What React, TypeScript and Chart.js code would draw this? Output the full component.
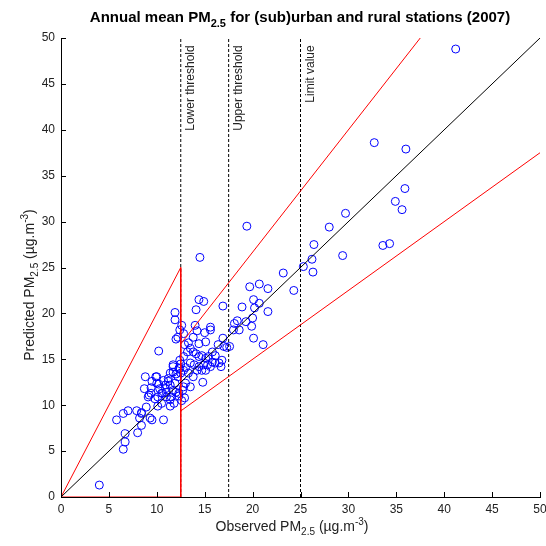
import React, { useEffect, useRef } from "react";
import { Chart, registerables } from "chart.js";
Chart.register(...registerables);

// Observed vs predicted annual mean PM2.5 (ug/m3)
const observed = [
  4.0, 5.8, 6.5, 7.0, 6.7, 6.7, 6.5, 8.0, 7.9, 8.4, 8.2, 8.9, 8.4, 9.3, 8.8, 9.9, 9.5, 10.7, 10.1, 9.2,
  10.2, 10.0, 10.2, 9.4, 10.3, 10.7, 10.9, 11.2, 10.6, 11.0, 11.4, 11.5, 11.8, 11.4, 11.7, 12.0, 12.4, 12.0, 12.3, 12.9,
  12.6, 12.8, 11.9, 11.9, 12.2, 12.0, 12.6, 14.4, 14.9, 14.5, 14.1, 14.0, 14.2, 15.0, 15.6, 15.6, 16.9, 16.9, 16.4, 17.0,
  17.3, 16.5, 14.8,
  12.4, 12.8, 13.2, 13.5, 13.8, 14.1, 14.4, 14.7, 15.1, 15.4, 15.8, 16.1, 15.8, 15.3, 14.9, 14.4, 13.9, 13.5, 13.0, 12.8,
  12.5, 12.3, 11.7, 11.4, 12.2, 12.5, 13.3, 13.8, 14.2, 14.7, 15.1, 15.6, 16.1, 16.7, 16.8, 13.8, 13.3, 14.4, 15.1, 12.9,
  12.8, 12.4, 11.7, 11.2, 10.9, 11.7, 12.3, 10.5, 10.1, 9.8, 9.4, 9.1, 10.0, 9.5, 8.7, 8.4, 10.5, 11.4, 11.0, 11.9,
  13.0, 13.5, 12.7,
  18.1, 18.4, 18.9, 18.6, 19.4, 19.7, 20.7, 21.6, 24.3, 20.1, 20.0, 19.9, 20.1, 21.1, 21.6, 20.7, 20.2, 19.3, 18.0, 17.6,
  23.2, 25.3, 26.2, 26.3, 26.4, 28.0, 29.4, 29.7, 32.7, 36.0, 35.9, 34.9, 35.6, 33.6, 34.3, 41.2,
];
const predicted = [
  1.3, 8.4, 9.1, 9.4, 6.9, 6.0, 5.2, 7.0, 9.4, 9.2, 8.6, 9.8, 7.8, 8.6, 13.1, 13.1, 8.4, 8.4, 9.9, 11.1,
  15.9, 12.4, 12.3, 11.9, 11.8, 12.7, 11.8, 12.9, 11.3, 11.4, 12.2, 10.9, 10.2, 9.9, 14.4, 13.4, 14.0, 11.4, 11.0, 10.8,
  10.5, 12.0, 20.1, 19.3, 17.4, 17.2, 18.7, 21.5, 21.3, 26.1, 20.4, 18.7, 18.1, 17.9, 18.2, 18.5, 20.8, 17.3, 16.6, 16.4,
  16.3, 14.6, 12.5,
  14.9, 15.3, 15.8, 16.2, 15.8, 15.6, 15.3, 15.4, 15.1, 15.3, 14.7, 15.4, 15.8, 14.4, 14.4, 14.2, 14.4, 14.6, 14.1, 13.8,
  14.5, 14.0, 14.2, 13.5, 13.1, 13.5, 13.5, 13.1, 13.8, 13.8, 13.8, 14.2, 14.6, 14.2, 14.9, 17.4, 16.8, 16.7, 16.9, 16.6,
  17.8, 18.2, 13.6, 12.6, 12.2, 11.6, 11.3, 11.3, 10.9, 10.7, 11.3, 10.9, 13.1, 12.6, 11.8, 9.1, 10.2, 10.6, 10.9, 12.4,
  12.4, 12.0, 11.6,
  18.9, 19.2, 20.7, 18.2, 29.5, 22.9, 23.2, 22.7, 22.5, 21.5, 19.5, 18.6, 17.3, 16.6, 20.2, 21.1, 20.6, 19.1, 18.2, 16.4,
  24.4, 25.1, 25.9, 24.5, 27.5, 29.4, 26.3, 30.9, 38.6, 37.9, 33.6, 32.2, 31.3, 27.4, 27.6, 48.8,
];

const axisTicks = [0, 5, 10, 15, 20, 25, 30, 35, 40, 45, 50];
const thresholds = [12.5, 17.5, 25];
const thresholdLabels = ["Lower threshold", "Upper threshold", "Limit value"];
const oneToOneX = [0, 50];
const oneToOneY = [0, 50];
const redLowX = [0, 12.5, 12.5, 0];
const redLowY = [0, 25, 0, 0];
const redUpperX = [12.5, 37.5];
const redUpperY = [16.667, 50];
const redLowerX = [12.5, 50];
const redLowerY = [9.375, 37.5];

const FONT = "Arial, 'Liberation Sans', sans-serif";
const TXT = "#222222";

type Part = { t: string; k?: "sub" | "sup" };

function drawRich(ctx: CanvasRenderingContext2D, parts: Part[], cx: number, y: number, size: number, bold: boolean) {
  const w = bold ? "bold " : "";
  const small = Math.round(size * 0.72);
  const fontFor = (p: Part) => `${w}${p.k ? small : size}px ${FONT}`;
  let total = 0;
  for (const p of parts) {
    ctx.font = fontFor(p);
    total += ctx.measureText(p.t).width;
  }
  let x = cx - total / 2;
  ctx.textAlign = "left";
  ctx.textBaseline = "alphabetic";
  for (const p of parts) {
    ctx.font = fontFor(p);
    const dy = p.k === "sub" ? size * 0.32 : p.k === "sup" ? -size * 0.45 : 0;
    ctx.fillText(p.t, x, y + dy);
    x += ctx.measureText(p.t).width;
  }
}

const decorPlugin = {
  id: "decor",
  afterDraw(chart: any) {
    const ctx: CanvasRenderingContext2D = chart.ctx;
    const xs = chart.scales.x;
    const ys = chart.scales.y;
    const area = chart.chartArea;
    ctx.save();
    // inward ticks
    ctx.strokeStyle = "#000";
    ctx.lineWidth = 1;
    ctx.beginPath();
    for (const v of axisTicks) {
      const px = Math.round(xs.getPixelForValue(v)) + 0.5;
      ctx.moveTo(px, area.bottom);
      ctx.lineTo(px, area.bottom - 5);
      const py = Math.round(ys.getPixelForValue(v)) + 0.5;
      ctx.moveTo(area.left, py);
      ctx.lineTo(area.left + 5, py);
    }
    ctx.stroke();
    // threshold labels
    ctx.fillStyle = TXT;
    ctx.font = `12px ${FONT}`;
    thresholds.forEach((t, i) => {
      const px = xs.getPixelForValue(t) + 13;
      const py = ys.getPixelForValue(49.2);
      ctx.save();
      ctx.translate(px, py);
      ctx.rotate(-Math.PI / 2);
      ctx.textAlign = "right";
      ctx.textBaseline = "alphabetic";
      ctx.fillText(thresholdLabels[i], 0, 0);
      ctx.restore();
    });
    // title
    ctx.fillStyle = "#000";
    drawRich(ctx, [
      { t: "Annual mean PM" }, { t: "2.5", k: "sub" }, { t: " for (sub)urban and rural stations (2007)" },
    ], 300, 22, 15, true);
    // x title
    ctx.fillStyle = TXT;
    drawRich(ctx, [
      { t: "Observed PM" }, { t: "2.5", k: "sub" }, { t: " (µg.m" }, { t: "-3", k: "sup" }, { t: ")" },
    ], 292, 531, 14, false);
    // y title
    ctx.save();
    ctx.translate(34, 285);
    ctx.rotate(-Math.PI / 2);
    drawRich(ctx, [
      { t: "Predicted PM" }, { t: "2.5", k: "sub" }, { t: " (µg.m" }, { t: "-3", k: "sup" }, { t: ")" },
    ], 0, 0, 14, false);
    ctx.restore();
    ctx.restore();
  },
};

function pts(xa: number[], ya: number[]) {
  return xa.map((x, i) => ({ x, y: ya[i] }));
}

export default function App() {
  const ref = useRef<HTMLCanvasElement>(null);
  useEffect(() => {
    if (!ref.current) return;
    const lineDs = (data: any, color: string, dash: number[] = []) => ({
      type: "line" as const,
      data,
      borderColor: color,
      borderWidth: 1,
      borderDash: dash,
      pointRadius: 0,
      showLine: true,
      fill: false,
      tension: 0,
    });
    const datasets: any[] = [
      lineDs(pts(oneToOneX, oneToOneY), "#000000"),
      lineDs(pts(redLowX, redLowY), "#ff0000"),
      lineDs(pts(redUpperX, redUpperY), "#ff0000"),
      lineDs(pts(redLowerX, redLowerY), "#ff0000"),
      ...thresholds.map((t) => lineDs([{ x: t, y: 0 }, { x: t, y: 50 }], "#000000", [3, 2])),
      {
        type: "scatter",
        data: pts(observed, predicted),
        pointStyle: "circle",
        pointRadius: 4,
        pointBorderColor: "#0000ff",
        pointBackgroundColor: "rgba(0,0,0,0)",
        pointBorderWidth: 1,
        showLine: false,
      },
    ];
    const chart = new Chart(ref.current, {
      type: "scatter",
      data: { datasets },
      plugins: [decorPlugin],
      options: {
        animation: false,
        responsive: false,
        maintainAspectRatio: false,
        layout: { padding: { left: 0, top: 38, right: 0, bottom: 0 } },
        plugins: { legend: { display: false }, tooltip: { enabled: false }, title: { display: false } },
        scales: {
          x: {
            type: "linear",
            min: 0,
            max: 50,
            afterFit: (s: any) => { s.height = 49; s.paddingRight = 6; },
            afterBuildTicks: (s: any) => { s.ticks = axisTicks.map((v) => ({ value: v })); },
            grid: { display: false, drawTicks: false },
            border: { display: true, color: "#000", width: 1 },
            ticks: { color: TXT, font: { family: FONT, size: 12 }, padding: 5, maxRotation: 0 },
          },
          y: {
            type: "linear",
            min: 0,
            max: 50,
            afterFit: (s: any) => { s.width = 61; },
            afterBuildTicks: (s: any) => { s.ticks = axisTicks.map((v) => ({ value: v })); },
            grid: { display: false, drawTicks: false },
            border: { display: true, color: "#000", width: 1 },
            ticks: { color: TXT, font: { family: FONT, size: 12 }, padding: 6 },
          },
        },
      },
    } as any);
    return () => chart.destroy();
  }, []);
  return (
    <div style={{ position: "fixed", left: 0, top: 0, width: 546, height: 546, background: "#fff" }}>
      <canvas ref={ref} width={546} height={546} style={{ width: 546, height: 546 }} />
    </div>
  );
}
